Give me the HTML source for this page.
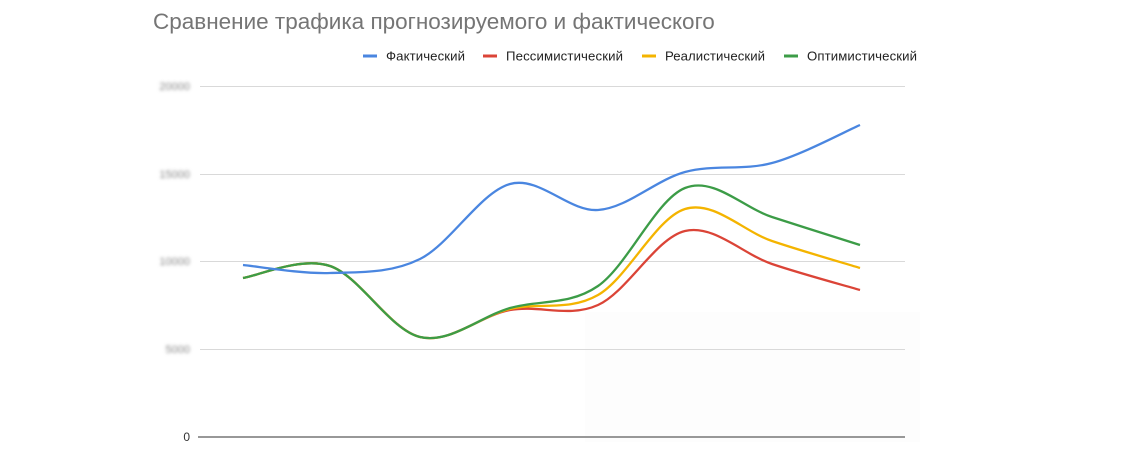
<!DOCTYPE html>
<html><head><meta charset="utf-8"><style>
body{margin:0;width:1128px;height:450px;background:#fff;overflow:hidden;font-family:"Liberation Sans",Arial,sans-serif}
</style></head><body>
<svg id="s" width="1128" height="450" xmlns="http://www.w3.org/2000/svg" font-family="Liberation Sans, Arial, sans-serif">
<defs><filter id="b"><feGaussianBlur stdDeviation="1.6"/></filter></defs>
<rect x="585" y="312" width="335" height="130" fill="#fdfdfd"/>
<text x="153" y="29" font-size="22.5" fill="#757575">Сравнение трафика прогнозируемого и фактического</text>
<g font-size="13.2" fill="#222">
<line x1="363" y1="56" x2="377" y2="56" stroke="#4a86e0" stroke-width="3"/><text x="386" y="60.5" textLength="79">Фактический</text>
<line x1="483" y1="56" x2="497" y2="56" stroke="#db4437" stroke-width="3"/><text x="506" y="60.5" textLength="117">Пессимистический</text>
<line x1="642" y1="56" x2="656" y2="56" stroke="#f4b400" stroke-width="3"/><text x="665" y="60.5" textLength="100">Реалистический</text>
<line x1="784" y1="56" x2="798" y2="56" stroke="#3c9c47" stroke-width="3"/><text x="807" y="60.5" textLength="110">Оптимистический</text>
</g>
<g stroke="#d9d9d9" stroke-width="1">
<line x1="200" y1="86.5" x2="905" y2="86.5"/><line x1="200" y1="174.5" x2="905" y2="174.5"/>
<line x1="200" y1="261.5" x2="905" y2="261.5"/><line x1="200" y1="349.5" x2="905" y2="349.5"/>
</g>
<line x1="198" y1="437" x2="905" y2="437" stroke="#777" stroke-width="1.5"/>
<g font-size="11" fill="#888" text-anchor="end" filter="url(#b)">
<text x="190" y="90">20000</text><text x="190" y="178">15000</text><text x="190" y="265">10000</text><text x="190" y="353">5000</text>
</g>
<text x="190" y="441" font-size="12" fill="#333" text-anchor="end">0</text>
<g id="lines" fill="none" stroke-width="2.3"></g>
</svg>
<script>
var xs=[243,330,420,510,598,685,772,860];
var S=[
["#db4437",[278,266,337,310,305,231,264,290]],
["#f4b400",[278,266,337,309,295,209,241,268]],
["#3c9c47",[278,266,337,308,286,188,217,245]],
["#4a86e0",[265,273,259,184,210,172,163,125]]];
function path(y){var d="M"+xs[0]+" "+y[0];for(var i=0;i<xs.length-1;i++){
var p0=[xs[Math.max(i-1,0)],y[Math.max(i-1,0)]],p1=[xs[i],y[i]],p2=[xs[i+1],y[i+1]],p3=[xs[Math.min(i+2,xs.length-1)],y[Math.min(i+2,xs.length-1)]];
var t=6;d+=" C"+(p1[0]+(p2[0]-p0[0])/t)+" "+(p1[1]+(p2[1]-p0[1])/t)+" "+(p2[0]-(p3[0]-p1[0])/t)+" "+(p2[1]-(p3[1]-p1[1])/t)+" "+p2[0]+" "+p2[1];}return d;}
var g=document.getElementById("lines");
S.forEach(function(s){var p=document.createElementNS("http://www.w3.org/2000/svg","path");p.setAttribute("d",path(s[1]));p.setAttribute("stroke",s[0]);g.appendChild(p);});
</script>
</body></html>
